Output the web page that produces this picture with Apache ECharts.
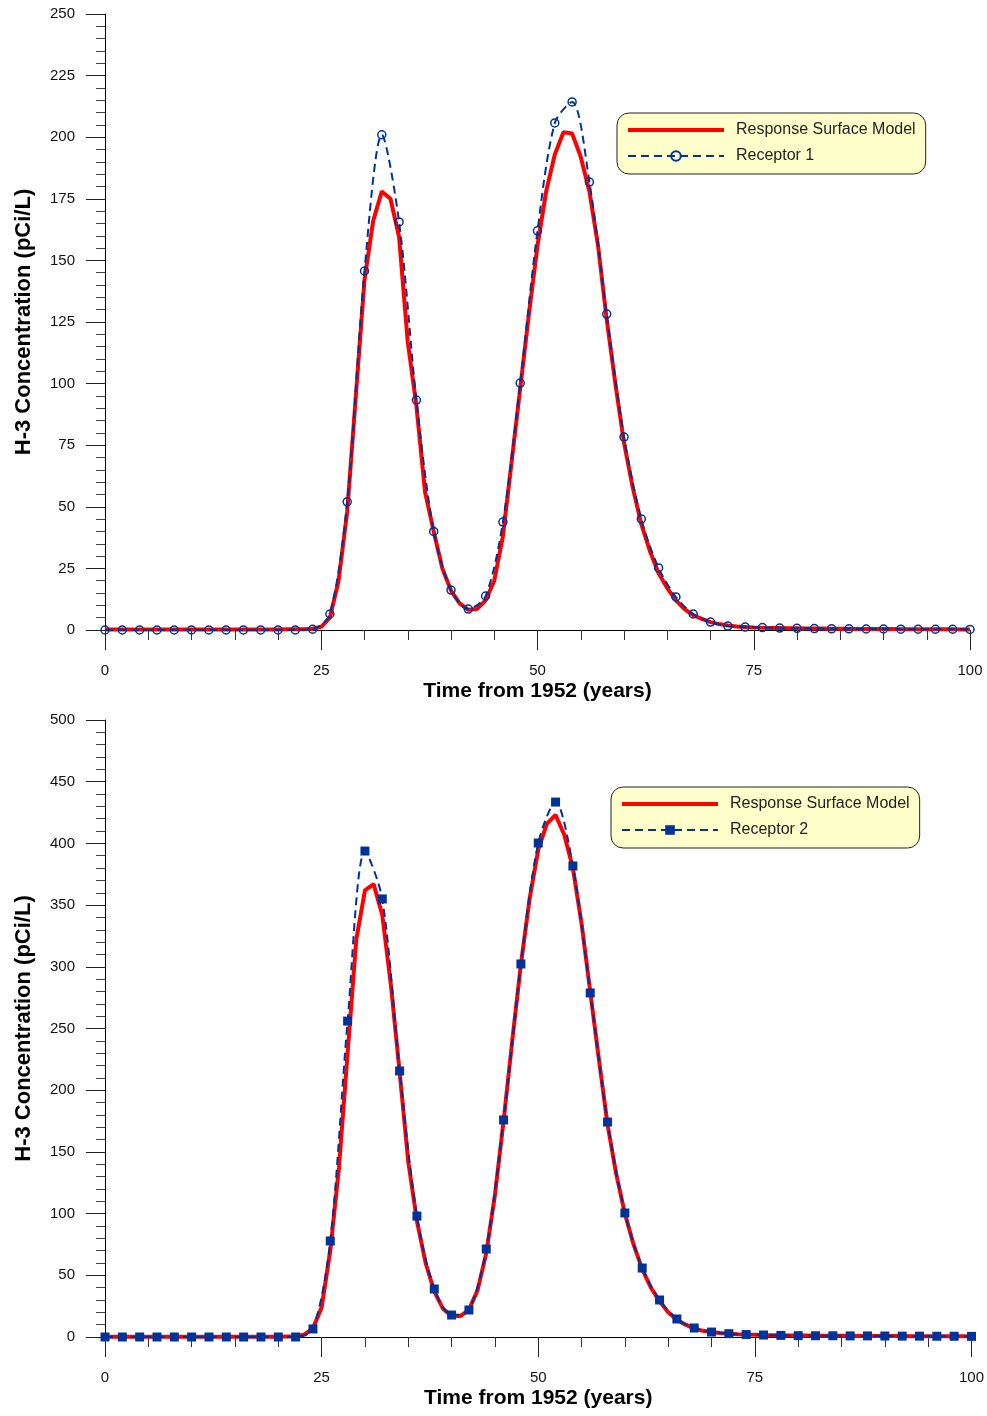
<!DOCTYPE html>
<html>
<head>
<meta charset="utf-8">
<title>H-3 Concentration</title>
<script src="https://cdn.jsdelivr.net/npm/echarts@6/dist/echarts.min.js"></script>
<style>
  * { margin: 0; padding: 0 }
  html, body { width: 100%; height: 100%; background: #fff; }
  #main { width: 987px; height: 1416px; }
</style>
</head>
<body>
<div id="main"></div>
<script>
// years for the model curves (1-year step)
var years = [0,1,2,3,4,5,6,7,8,9,10,11,12,13,14,15,16,17,18,19,20,21,22,23,24,25,26,27,28,29,30,31,32,33,34,35,36,37,38,39,40,41,42,43,44,45,46,47,48,49,50,51,52,53,54,55,56,57,58,59,60,61,62,63,64,65,66,67,68,69,70,71,72,73,74,75,76,77,78,79,80,81,82,83,84,85,86,87,88,89,90,91,92,93,94,95,96,97,98,99,100];
// years for receptor samples (2-year step)
var sampleYears = [0,2,4,6,8,10,12,14,16,18,20,22,24,26,28,30,32,34,36,38,40,42,44,46,48,50,52,54,56,58,60,62,64,66,68,70,72,74,76,78,80,82,84,86,88,90,92,94,96,98,100];

// top panel: response surface model and receptor 1
var rsm1 = [0.2,0.2,0.2,0.2,0.2,0.2,0.2,0.2,0.2,0.2,0.2,0.2,0.2,0.2,0.2,0.2,0.2,0.2,0.2,0.2,0.2,0.3,0.3,0.3,0.5,1.3,5,20,48,95,142,166,178,175,159.5,117,91,56,40,25,16,10.8,8.2,8.5,12,20,38,68,98,128,156,178,193,202,201.5,192,178,156,126,100,76,58,43,32,23,17,12,8.5,6,4.5,3.2,2.4,1.8,1.4,1.2,1.0,0.9,0.85,0.8,0.75,0.7,0.65,0.6,0.6,0.55,0.5,0.5,0.45,0.45,0.4,0.4,0.4,0.35,0.35,0.35,0.3,0.3,0.3,0.3,0.25,0.25];
var receptor1 = [0,0,0,0,0,0,0,0,0,0,0,0,0.3,6.5,52,145.7,201,165.6,93.3,40,16.2,8.5,13.8,43.8,100.2,162,205.8,214.3,181.8,128.2,78.3,45,25.2,13.4,6.5,3.2,1.6,1.2,1.0,0.8,0.7,0.6,0.5,0.5,0.4,0.4,0.35,0.3,0.3,0.3,0.25];

// bottom panel: response surface model and receptor 2
var rsm2 = [0.2,0.2,0.2,0.2,0.2,0.2,0.2,0.2,0.2,0.2,0.2,0.2,0.2,0.2,0.2,0.2,0.2,0.2,0.3,0.3,0.3,0.4,0.5,2,7,24,70,137,230,322,362,367,342,285,215,142,94,60,37,23,17,17,22,38,68,115,175,240,302,355,395,416,423,407,380,335,280,225,172,132,100,75,55,40,29,20,14,10,7,5,4,3.3,2.7,2.3,2,1.8,1.6,1.5,1.4,1.3,1.2,1.15,1.1,1.05,1.0,1.0,0.95,0.9,0.9,0.85,0.8,0.8,0.75,0.7,0.7,0.65,0.6,0.6,0.55,0.55,0.5];
var receptor2 = [0,0,0,0,0,0,0,0,0,0,0,0,6.5,77.8,256,393.8,355,215.6,98,38.9,17.8,21.9,71.3,175.9,302.3,400.3,433.5,381.7,278.8,174.2,100.5,55.9,30,14.6,7.3,4,2.7,2,1.6,1.3,1.1,1.0,1.0,0.9,0.9,0.8,0.7,0.7,0.6,0.6,0.5];

var xTicks = [0, 25, 50, 75, 100];

function pairs(xs, ys) {
  var out = [];
  for (var i = 0; i < xs.length; i++) out.push([xs[i], ys[i]]);
  return out;
}

var FONT = 'Liberation Sans, Arial, sans-serif';
var RED = '#ff0000';
var BLUE = '#003399';

function xAxisCfg(idx) {
  return {
    type: 'value', gridIndex: idx, min: xTicks[0], max: xTicks[xTicks.length - 1], interval: 25,
    name: 'Time from 1952 (years)', nameLocation: 'middle', nameGap: 51,
    nameTextStyle: { fontSize: 21, fontWeight: 'bold', color: '#000', fontFamily: FONT },
    axisLine: { onZero: false, lineStyle: { color: '#000', width: 1 } },
    axisTick: { show: true, length: 20, lineStyle: { color: '#222' } },
    minorTick: { show: true, splitNumber: 5, length: 10, lineStyle: { color: '#333' } },
    axisLabel: { fontSize: 15, color: '#111', margin: 33, fontFamily: FONT },
    splitLine: { show: false }
  };
}

function yAxisCfg(idx, max, step) {
  return {
    type: 'value', gridIndex: idx, min: 0, max: max, interval: step,
    name: 'H-3 Concentration (pCi/L)', nameLocation: 'middle', nameGap: 70,
    nameTextStyle: { fontSize: 22, fontWeight: 'bold', color: '#000', fontFamily: FONT },
    axisLine: { show: true, lineStyle: { color: '#000', width: 1 } },
    axisTick: { show: true, length: 19, lineStyle: { color: '#222' } },
    minorTick: { show: true, splitNumber: 5, length: 9, lineStyle: { color: '#444' } },
    axisLabel: { fontSize: 15, color: '#111', margin: 30, fontFamily: FONT },
    splitLine: { show: false }
  };
}

function legendCfg(left, top, recName) {
  return {
    left: left, top: top, orient: 'vertical',
    backgroundColor: '#ffffcc', borderColor: '#222', borderWidth: 1, borderRadius: 12,
    padding: [9, 10, 10, 10], itemWidth: 96, itemHeight: 12, itemGap: 10,
    textStyle: { fontSize: 16, color: '#222', fontFamily: FONT, padding: [0, 0, 0, 7] },
    data: [
      { name: 'Response Surface Model', icon: 'path://M0,0H96V4H0Z', itemStyle: { color: RED } },
      { name: recName }
    ],
    selectedMode: false
  };
}

var chart = echarts.init(document.getElementById('main'));
chart.setOption({
  animation: false,
  backgroundColor: '#fff',
  textStyle: { fontFamily: FONT },
  grid: [
    { left: 105, top: 14, width: 865, height: 616 },
    { left: 105, top: 720, width: 867, height: 617 }
  ],
  xAxis: [xAxisCfg(0), xAxisCfg(1)],
  yAxis: [yAxisCfg(0, 250, 25), yAxisCfg(1, 500, 50)],
  legend: [
    legendCfg(617, 113, 'Receptor 1'),
    legendCfg(611, 787, 'Receptor 2')
  ],
  series: [
    {
      name: 'Response Surface Model', type: 'line', xAxisIndex: 0, yAxisIndex: 0,
      data: pairs(years, rsm1), symbol: 'none', smooth: false, z: 2,
      itemStyle: { color: RED },
      lineStyle: { color: RED, width: 4 }
    },
    {
      name: 'Receptor 1', type: 'line', xAxisIndex: 0, yAxisIndex: 0,
      data: pairs(sampleYears, receptor1), symbol: 'circle', symbolSize: 8, smooth: 0.3, z: 3,
      itemStyle: { color: 'rgba(0,0,0,0)', borderColor: BLUE, borderWidth: 1.5 },
      lineStyle: { color: BLUE, width: 2, type: [8, 5] }
    },
    {
      name: 'Response Surface Model', type: 'line', xAxisIndex: 1, yAxisIndex: 1,
      data: pairs(years, rsm2), symbol: 'none', smooth: false, z: 2,
      itemStyle: { color: RED },
      lineStyle: { color: RED, width: 4 }
    },
    {
      name: 'Receptor 2', type: 'line', xAxisIndex: 1, yAxisIndex: 1,
      data: pairs(sampleYears, receptor2), symbol: 'rect', symbolSize: 9, smooth: 0.3, z: 3,
      itemStyle: { color: BLUE },
      lineStyle: { color: BLUE, width: 2, type: [8, 5] }
    }
  ]
});
</script>
</body>
</html>
